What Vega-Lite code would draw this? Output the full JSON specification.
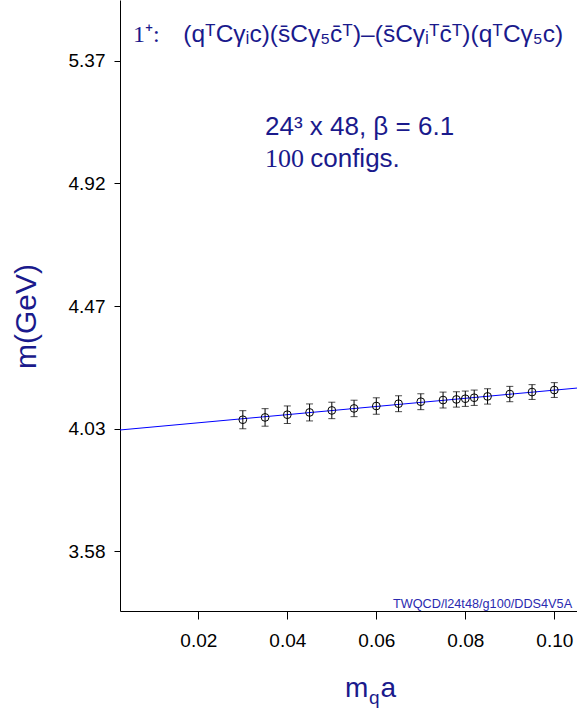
{
  "$schema": "https://vega.github.io/schema/vega-lite/v6.json",
  "width": 457,
  "height": 611,
  "autosize": {"type": "none"},
  "padding": {"left": 120, "top": 0, "right": 0, "bottom": 106},
  "background": "white",
  "config": {
    "view": {"stroke": null},
    "axis": {"grid": false, "domainColor": "black", "tickColor": "black", "labelColor": "black", "labelFont": "Liberation Sans", "labelFontSize": 19, "domainWidth": 1, "tickWidth": 1, "labelFlush": false}
  },
  "resolve": {"axis": {"x": "independent"}},
  "layer": [
    {
      "data": {"values": [{"mq": 0, "m": 4.0188}, {"mq": 0.11, "m": 4.1826}]},
      "mark": {"type": "line", "color": "#0000ff", "strokeWidth": 1, "clip": true},
      "encoding": {
        "x": {"field": "mq", "type": "quantitative", "scale": {"domain": [0.0024, 0.1051], "nice": false, "zero": false},
          "axis": {"orient": "bottom", "values": [0.02, 0.04, 0.06, 0.08, 0.1], "format": ".2f", "tickSize": 8, "labelPadding": 12, "title": null}},
        "y": {"field": "m", "type": "quantitative", "title": "m(GeV)", "scale": {"domain": [3.362, 5.591], "nice": false, "zero": false},
          "axis": {"values": [3.5796, 4.027, 4.4744, 4.9218, 5.3692], "format": ".2f", "tickSize": 6, "labelPadding": 9, "title": "m(GeV)", "titleFont": "Liberation Sans", "titleFontSize": 30, "titleFontWeight": "normal", "titleColor": "#1a1a8c", "titleX": -85, "titleY": 316, "titleBaseline": "alphabetic", "titleAngle": -90, "titleAlign": "center"}}
      }
    },
    {
      "data": {"name": "pts", "values": [
        {"mq": 0.030, "m": 4.0598, "err": 0.033},
        {"mq": 0.035, "m": 4.0682, "err": 0.032},
        {"mq": 0.040, "m": 4.0781, "err": 0.032},
        {"mq": 0.045, "m": 4.0864, "err": 0.031},
        {"mq": 0.050, "m": 4.0937, "err": 0.030},
        {"mq": 0.055, "m": 4.1010, "err": 0.030},
        {"mq": 0.060, "m": 4.1098, "err": 0.030},
        {"mq": 0.065, "m": 4.1182, "err": 0.029},
        {"mq": 0.070, "m": 4.1255, "err": 0.029},
        {"mq": 0.075, "m": 4.1316, "err": 0.029},
        {"mq": 0.078, "m": 4.1338, "err": 0.028},
        {"mq": 0.080, "m": 4.1364, "err": 0.028},
        {"mq": 0.082, "m": 4.1400, "err": 0.028},
        {"mq": 0.085, "m": 4.1448, "err": 0.028},
        {"mq": 0.090, "m": 4.1535, "err": 0.028},
        {"mq": 0.095, "m": 4.1608, "err": 0.027},
        {"mq": 0.100, "m": 4.1681, "err": 0.027}
      ]},
      "layer": [
        {
          "mark": {"type": "errorbar", "ticks": {"size": 7, "color": "black"}, "rule": {"color": "black", "strokeWidth": 1}, "color": "black"},
          "encoding": {
            "x": {"field": "mq", "type": "quantitative", "scale": {"domain": [0.0024, 0.1051], "nice": false, "zero": false}, "axis": null},
            "y": {"field": "m", "type": "quantitative", "title": "m(GeV)", "scale": {"domain": [3.362, 5.591], "nice": false, "zero": false}},
            "yError": {"field": "err"}
          }
        },
        {
          "mark": {"type": "point", "shape": "circle", "filled": false, "stroke": "black", "strokeWidth": 1, "size": 60, "opacity": 1},
          "encoding": {
            "x": {"field": "mq", "type": "quantitative", "scale": {"domain": [0.0024, 0.1051], "nice": false, "zero": false},
              "axis": {"orient": "top", "labels": false, "ticks": false, "title": null, "domain": true}},
            "y": {"field": "m", "type": "quantitative", "title": "m(GeV)", "scale": {"domain": [3.362, 5.591], "nice": false, "zero": false}}
          }
        }
      ]
    },
    {
      "data": {"values": [{"mq": 0.00532, "m": 5.4378, "label": "1⁺:"}]},
      "mark": {"type": "text", "align": "left", "baseline": "alphabetic", "font": "Liberation Serif", "fontSize": 24, "color": "#1a1a8c"},
      "encoding": {
        "x": {"field": "mq", "type": "quantitative", "scale": {"domain": [0.0024, 0.1051], "nice": false, "zero": false}, "axis": null},
        "y": {"field": "m", "type": "quantitative", "title": "m(GeV)", "scale": {"domain": [3.362, 5.591], "nice": false, "zero": false}},
        "text": {"field": "label"}
      }
    },
    {
      "data": {"values": [{"mq": 0.01662, "m": 5.4378, "label": "(qᵀCγᵢc)(s̄Cγ₅c̄ᵀ)–(s̄Cγᵢᵀc̄ᵀ)(qᵀCγ₅c)"}]},
      "mark": {"type": "text", "align": "left", "baseline": "alphabetic", "font": "Liberation Sans", "fontSize": 24.5, "color": "#1a1a8c"},
      "encoding": {
        "x": {"field": "mq", "type": "quantitative", "scale": {"domain": [0.0024, 0.1051], "nice": false, "zero": false}, "axis": null},
        "y": {"field": "m", "type": "quantitative", "title": "m(GeV)", "scale": {"domain": [3.362, 5.591], "nice": false, "zero": false}},
        "text": {"field": "label"}
      }
    },
    {
      "data": {"values": [{"mq": 0.03498, "m": 5.0985, "label": "24³ x 48, β = 6.1"}, {"mq": 0.04515, "m": 4.9828, "label": "configs."}]},
      "mark": {"type": "text", "align": "left", "baseline": "alphabetic", "font": "Liberation Sans", "fontSize": 26, "color": "#1a1a8c"},
      "encoding": {
        "x": {"field": "mq", "type": "quantitative", "scale": {"domain": [0.0024, 0.1051], "nice": false, "zero": false}, "axis": null},
        "y": {"field": "m", "type": "quantitative", "title": "m(GeV)", "scale": {"domain": [3.362, 5.591], "nice": false, "zero": false}},
        "text": {"field": "label"}
      }
    },
    {
      "data": {"values": [{"mq": 0.03498, "m": 4.9828, "label": "100"}]},
      "mark": {"type": "text", "align": "left", "baseline": "alphabetic", "font": "Liberation Serif", "fontSize": 26, "color": "#1a1a8c"},
      "encoding": {
        "x": {"field": "mq", "type": "quantitative", "scale": {"domain": [0.0024, 0.1051], "nice": false, "zero": false}, "axis": null},
        "y": {"field": "m", "type": "quantitative", "title": "m(GeV)", "scale": {"domain": [3.362, 5.591], "nice": false, "zero": false}},
        "text": {"field": "label"}
      }
    },
    {
      "data": {"values": [{"mq": 0.1040, "m": 3.3729, "label": "TWQCD/l24t48/g100/DDS4V5A"}]},
      "mark": {"type": "text", "align": "right", "baseline": "alphabetic", "font": "Liberation Sans", "fontSize": 12.7, "color": "#2a2ab0"},
      "encoding": {
        "x": {"field": "mq", "type": "quantitative", "scale": {"domain": [0.0024, 0.1051], "nice": false, "zero": false}, "axis": null},
        "y": {"field": "m", "type": "quantitative", "title": "m(GeV)", "scale": {"domain": [3.362, 5.591], "nice": false, "zero": false}},
        "text": {"field": "label"}
      }
    },
    {
      "data": {"values": [{"mq": 0.05296, "m": 3.0492, "label": "m"}, {"mq": 0.06095, "m": 3.0492, "label": "a"}]},
      "mark": {"type": "text", "align": "left", "baseline": "alphabetic", "font": "Liberation Sans", "fontSize": 28, "color": "#1a1a8c"},
      "encoding": {
        "x": {"field": "mq", "type": "quantitative", "scale": {"domain": [0.0024, 0.1051], "nice": false, "zero": false}, "axis": null},
        "y": {"field": "m", "type": "quantitative", "title": "m(GeV)", "scale": {"domain": [3.362, 5.591], "nice": false, "zero": false}},
        "text": {"field": "label"}
      }
    },
    {
      "data": {"values": [{"mq": 0.05836, "m": 3.0226, "label": "q"}]},
      "mark": {"type": "text", "align": "left", "baseline": "alphabetic", "font": "Liberation Sans", "fontSize": 19, "color": "#1a1a8c"},
      "encoding": {
        "x": {"field": "mq", "type": "quantitative", "scale": {"domain": [0.0024, 0.1051], "nice": false, "zero": false}, "axis": null},
        "y": {"field": "m", "type": "quantitative", "title": "m(GeV)", "scale": {"domain": [3.362, 5.591], "nice": false, "zero": false}},
        "text": {"field": "label"}
      }
    }
  ]
}
